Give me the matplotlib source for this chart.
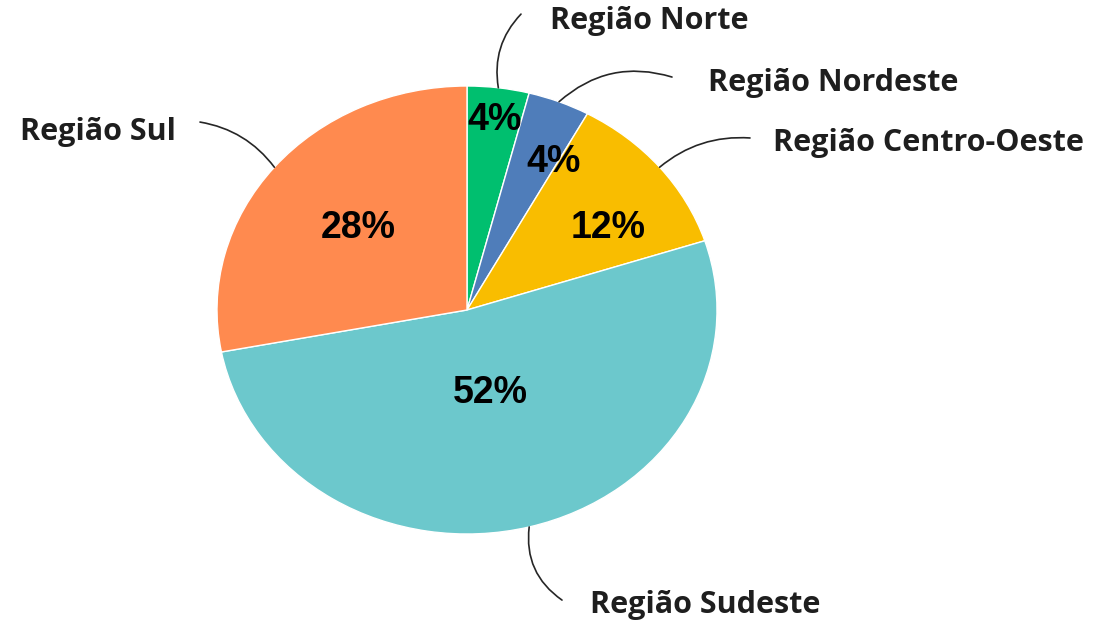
import numpy as np
import matplotlib.pyplot as plt

regioes = ['Região Norte', 'Região Nordeste', 'Região Centro-Oeste', 'Região Sudeste', 'Região Sul']
percentuais = [4, 4, 12, 52, 28]
cores = ['#00BF6F', '#4F7DBA', '#F9BD00', '#6CC8CC', '#FF8A4F']

# layout of labels (data units: x in pie x-radius, y in pie y-radius)
pct_dist = [0.855, 0.745, 0.672, 0.382, 0.569]
pct_ang_shift = [-0.3, -6.0, -6.6, -0.4, -0.4]
linha_fim = [(0.216, 1.321), (0.82, 1.04), (1.132, 0.768), (0.38, -1.295), (-1.068, 0.839)]
linha_rad = [0.25, 0.28, 0.2, -0.3, -0.2]
texto_pos = [(0.332, 1.29, 'left'), (0.964, 1.013, 'left'), (1.224, 0.746, 'left'),
             (0.492, -1.317, 'left'), (-1.164, 0.795, 'right')]

fig = plt.figure(figsize=(11.01, 6.24), dpi=100)
ax = fig.add_axes([0, 0, 1, 1])
ax.axis('off')

wedges, _ = ax.pie(percentuais, colors=cores, startangle=90, counterclock=False,
                   radius=1, wedgeprops=dict(edgecolor='white', linewidth=1))
ax.set_aspect('auto')
ax.set_xlim(-467 / 250, (1101 - 467) / 250)
ax.set_ylim(-314 / 224, (624 - 314) / 224)

for i, w in enumerate(wedges):
    mid = np.deg2rad((w.theta1 + w.theta2) / 2)
    a = mid + np.deg2rad(pct_ang_shift[i])
    ax.text(pct_dist[i] * np.cos(a), pct_dist[i] * np.sin(a), f'{percentuais[i]}%',
            ha='center', va='center', fontsize=27, fontweight='bold',
            family='Liberation Sans', color='black')
    borda = (np.cos(mid), np.sin(mid))
    ax.annotate('', xy=borda, xytext=linha_fim[i],
                arrowprops=dict(arrowstyle='-', color='#262626', lw=1.2,
                                connectionstyle=f'arc3,rad={linha_rad[i]}',
                                shrinkA=0, shrinkB=0))
    tx, ty, ha = texto_pos[i]
    ax.text(tx, ty, regioes[i], ha=ha, va='center', fontsize=22,
            fontweight='bold', family='Open Sans', color='#1e1e1e')

fig.savefig('out.png', dpi=100)
